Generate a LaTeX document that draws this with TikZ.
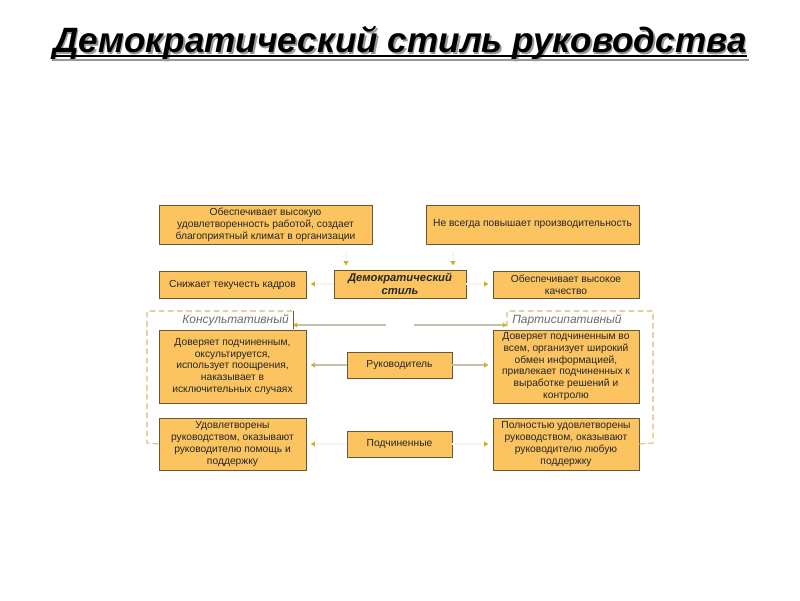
\documentclass[tikz,border=0pt]{standalone}
\usepackage{fontspec}
\setmainfont{Liberation Sans}
\usepackage{tikz}
\usetikzlibrary{arrows.meta,calc,positioning,shadows}

\definecolor{boxfill}{RGB}{251,196,96}
\definecolor{boxline}{RGB}{105,88,52}
\definecolor{linkgray}{RGB}{198,190,172}
\definecolor{tipyellow}{RGB}{245,205,40}
\definecolor{framegold}{RGB}{214,186,112}
\definecolor{labelgray}{RGB}{105,105,105}

\begin{document}
\begin{tikzpicture}[x=0.025cm,y={(0cm,-0.025cm)},
    box/.style={draw=boxline,fill=boxfill,line width=0.5pt,align=center,inner sep=0.5pt,
      font=\fontsize{7.3}{8.5}\selectfont,text=black!85,
      drop shadow={shadow xshift=0.7pt,shadow yshift=-0.7pt,fill=black!45,opacity=1}},
    link/.style={draw=linkgray,line width=0.9pt,shorten >=3pt,
      -{Triangle[length=3pt,width=3.4pt,fill=tipyellow,color=tipyellow!85!black]}},
    faint/.style={link,draw=black!4},
    frame/.style={draw=framegold,line width=0.75pt,dash pattern=on 4pt off 2.5pt},
    grouplabel/.style={font=\fontsize{8.5}{10}\itshape,text=labelgray,inner sep=0pt}]
  \useasboundingbox (0,0) rectangle (800,600);

  % title with shadow
  \node[font=\fontsize{25}{29}\bfseries\itshape,text=black!40,inner sep=0pt,anchor=base]
    (titleshadow) at (401.5,54) {Демократический стиль руководства};
  \node[font=\fontsize{25}{29}\bfseries\itshape,inner sep=0pt,anchor=base]
    (title) at (400,52) {Демократический стиль руководства};
  \draw[black!40,line width=1.8pt] ($(titleshadow.base west)+(0,6)$) -- ($(titleshadow.base east)+(0,6)$);
  \draw[black,line width=1.8pt] ($(title.base west)+(0,4)$) -- ($(title.base east)+(0,4)$);

  % top row
  \node[box,minimum width=5.33cm,minimum height=0.98cm] (climate) at (265.5,224.5)
    {Обеспечивает высокую\\удовлетворенность работой, создает\\благоприятный климат в организации};
  \node[box,minimum width=5.33cm,minimum height=0.98cm] (productivity) at (532.5,224.5)
    {Не всегда повышает производительность};

  % middle row
  \node[box,minimum width=3.68cm,minimum height=0.68cm] (turnover) at (232.5,284.5)
    {Снижает текучесть кадров};
  \node[box,minimum width=3.3cm,minimum height=0.7cm,font=\fontsize{8}{9.5}\bfseries\itshape] (demstyle) at (400,284)
    {Демократический\\стиль};
  \node[box,minimum width=3.65cm,minimum height=0.68cm] (quality) at (566,284.5)
    {Обеспечивает высокое\\качество};

  % leader row
  \node[box,minimum width=3.68cm,minimum height=1.83cm] (consleader) at (232.5,366.5)
    {Доверяет подчиненным,\\оксультируется,\\использует поощрения,\\наказывает в\\исключительных случаях};
  \node[box,minimum width=2.63cm,minimum height=0.65cm] (leader) at (399.5,365) {Руководитель};
  \node[box,minimum width=3.65cm,minimum height=1.83cm] (partleader) at (566,366.5)
    {Доверяет подчиненным во\\всем, организует широкий\\обмен информацией,\\привлекает подчиненных к\\выработке решений и\\контролю};

  % subordinates row
  \node[box,minimum width=3.68cm,minimum height=1.3cm] (conssub) at (232.5,444)
    {Удовлетворены\\руководством, оказывают\\руководителю помощь и\\поддержку};
  \node[box,minimum width=2.63cm,minimum height=0.65cm] (subs) at (399.5,444) {Подчиненные};
  \node[box,minimum width=3.65cm,minimum height=1.3cm] (partsub) at (566,444)
    {Полностью удовлетворены\\руководством, оказывают\\руководителю любую\\поддержку};

  % group frames
  \draw[frame] (conssub.west) -- (147,443) -- (147,311) -- (293,311);
  \draw[boxline,line width=0.6pt] (293,311) -- (293,329);
  \draw[frame] (partsub.east) -- (653,443) -- (653,311) -- (507,311) -- (507,329);
  \node[grouplabel,anchor=east] (conslabel) at (289,320) {Консультативный};
  \node[grouplabel,anchor=west] (partlabel) at (512,320) {Партисипативный};

  % connectors
  \coordinate (splitL) at (386,325);
  \coordinate (splitR) at (414,325);
  \coordinate (frameL) at (293,325);
  \coordinate (frameR) at (507,325);
  \draw[link,shorten >=0pt] (splitL) -- (frameL);
  \draw[link,shorten >=0pt] (splitR) -- (frameR);
  \coordinate (inL) at (346,252);
  \coordinate (inR) at (453,252);
  \draw[faint] (inL) -- (inL |- demstyle.north);
  \draw[faint] (inR) -- (inR |- demstyle.north);
  \draw[faint] (demstyle.west) -- (demstyle.west -| turnover.east);
  \draw[faint] (demstyle.east) -- (demstyle.east -| quality.west);
  \draw[link] (leader.west) -- (leader.west -| consleader.east);
  \draw[link] (leader.east) -- (leader.east -| partleader.west);
  \draw[faint] (subs.west) -- (subs.west -| conssub.east);
  \draw[faint] (subs.east) -- (subs.east -| partsub.west);
\end{tikzpicture}
\end{document}
